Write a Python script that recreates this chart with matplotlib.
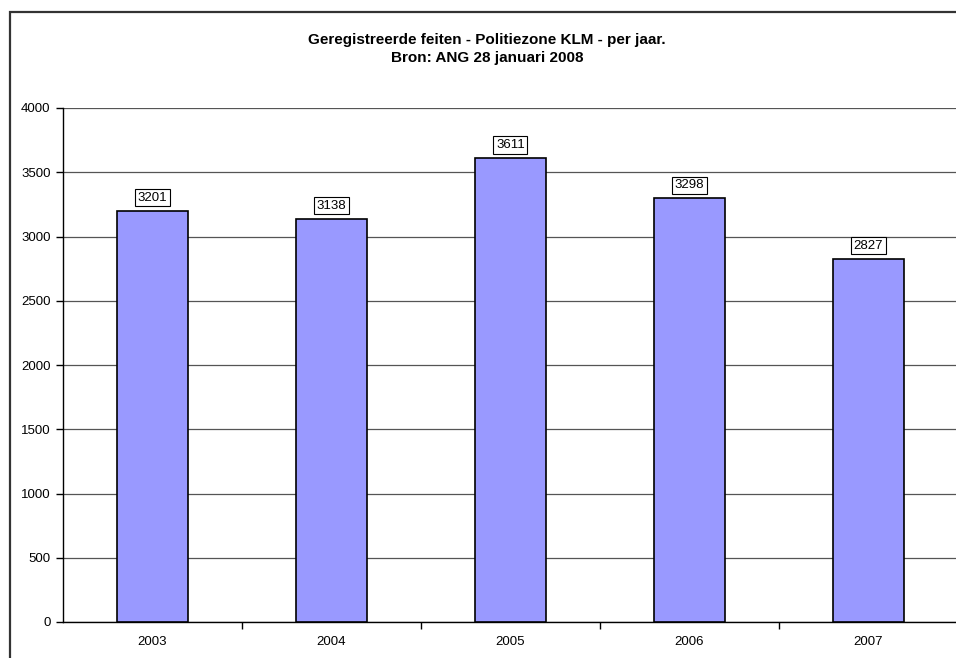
import matplotlib
matplotlib.use("Agg")
import matplotlib.pyplot as plt
from matplotlib.patches import Rectangle

years = ["2003", "2004", "2005", "2006", "2007"]
values = [3201, 3138, 3611, 3298, 2827]
yticks = [0, 500, 1000, 1500, 2000, 2500, 3000, 3500, 4000]

plt.rcParams['font.family'] = ['Liberation Sans', 'DejaVu Sans']

fig = plt.figure(figsize=(9.56, 6.58), dpi=100)
W, H = 956, 658
ax = fig.add_axes([63 / W, 1 - 622 / H, (956 - 63) / W + 0.002, (622 - 108) / H])

x = list(range(len(years)))
ax.bar(x, values, width=0.4, color="#9999FF", edgecolor="black", linewidth=1.2, zorder=3)

for xi, v in zip(x, values):
    ax.annotate(str(v), (xi, v), xytext=(0, 5), textcoords="offset points",
                ha="center", va="bottom", fontsize=9.5,
                bbox=dict(boxstyle="square,pad=0.2", fc="white", ec="black", lw=0.8),
                zorder=4)

ax.set_xlim(-0.5, len(years) - 0.5)
ax.set_ylim(0, 4000)
ax.set_yticks(yticks)
ax.set_yticklabels([str(t) for t in yticks], fontsize=9.5)
ax.yaxis.grid(True, color="#555555", linewidth=0.9, zorder=0)
ax.set_axisbelow(True)

ax.set_xticks(x)
ax.set_xticklabels(years, fontsize=9.5)
ax.tick_params(axis="x", which="major", length=0, pad=10)
ax.set_xticks([i + 0.5 for i in range(len(years) - 1)], minor=True)
ax.tick_params(axis="x", which="minor", length=5, width=1, direction="out")
ax.tick_params(axis="y", length=5, width=1, direction="out", pad=4)

for s in ["top", "right"]:
    ax.spines[s].set_visible(False)
ax.spines["left"].set_linewidth(1)
ax.spines["bottom"].set_linewidth(1)

fig.text(487 / W, 1 - 40 / H, "Geregistreerde feiten - Politiezone KLM - per jaar.",
         ha="center", va="center", fontsize=11, fontweight="bold")
fig.text(487 / W, 1 - 58 / H, "Bron: ANG 28 januari 2008",
         ha="center", va="center", fontsize=11, fontweight="bold")

fig.patches.append(Rectangle((10 / W, -0.1), 1.2, 1 - 12 / H + 0.1,
                             transform=fig.transFigure, fill=False,
                             ec="#333333", lw=1.6))

fig.savefig("out.png", dpi=100)
